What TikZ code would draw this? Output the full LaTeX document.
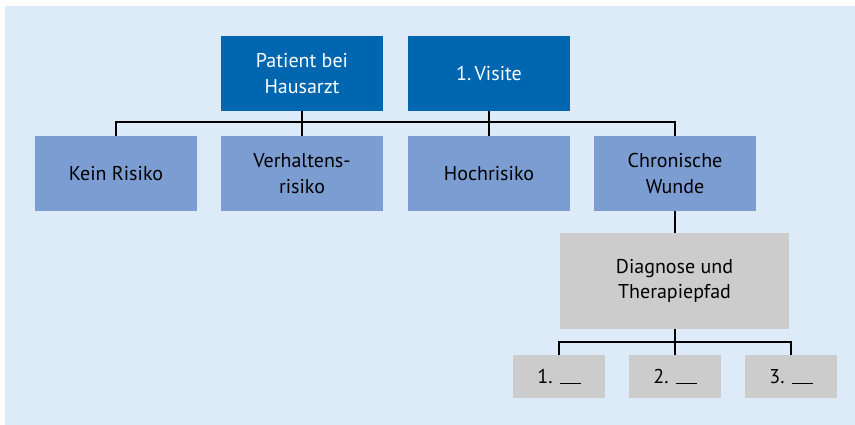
\documentclass[tikz,border=0pt]{standalone}
\usepackage{fontspec}
\setmainfont{PT Sans}
\definecolor{bgblue}{HTML}{DDEAF7}
\definecolor{darkblue}{HTML}{0066B0}
\definecolor{midblue}{HTML}{7B9DD2}
\definecolor{boxgray}{HTML}{CCCCCC}
\newcommand{\blankline}{\rule[-1pt]{21pt}{1.3pt}}
\begin{document}
\begin{tikzpicture}[x=1pt,y=-1pt,
  base/.style={inner sep=0pt, align=center, font=\fontsize{20}{25.5}\selectfont},
  topbox/.style={base, fill=darkblue, text=white, minimum width=162pt, minimum height=75pt},
  riskbox/.style={base, fill=midblue, text=black, minimum width=162pt, minimum height=75pt},
  diagbox/.style={base, fill=boxgray, text=black, minimum width=229pt, minimum height=96pt},
  smallbox/.style={base, fill=boxgray, text=black, minimum width=92pt, minimum height=43pt},
  conn/.style={draw=black, line width=2pt}]
\useasboundingbox (0,0) rectangle (855,425);
\fill[white] (0,0) rectangle (855,425);
\fill[bgblue] (5,6) rectangle (855,425);
\node[topbox] (patient) at (302,73.5) {Patient bei\\Hausarzt};
\node[topbox] (visite) at (489,73.5) {1.\,Visite};
\node[riskbox] (kein) at (116,173.5) {Kein Risiko};
\node[riskbox] (verh) at (302,173.5) {Verhaltens-\\risiko};
\node[riskbox] (hoch) at (489,173.5) {Hochrisiko};
\node[riskbox] (chron) at (675,173.5) {Chronische\\Wunde};
\node[diagbox] (diag) at (674.5,281) {Diagnose und\\Therapiepfad};
\node[smallbox] (s1) at (559,376.5) {1. \blankline};
\node[smallbox] (s2) at (675,376.5) {2. \blankline};
\node[smallbox] (s3) at (791,376.5) {3. \blankline};
\coordinate (hl) at (0,122);
\draw[conn] (kein.north) |- (hl -| chron.north) -- (chron.north);
\draw[conn] (patient.south) -- (verh.north);
\draw[conn] (visite.south) -- (hoch.north);
\draw[conn] (chron.south) -- (chron.south |- diag.north);
\coordinate (hl2) at (0,342);
\draw[conn] (s1.north) |- (hl2 -| s3.north) -- (s3.north);
\draw[conn] (diag.south -| s2.north) -- (s2.north);
\end{tikzpicture}
\end{document}
